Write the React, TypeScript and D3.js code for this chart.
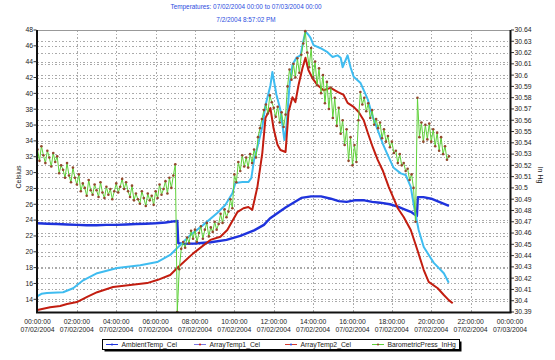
import React from 'react';
import * as d3 from 'd3';

// ---------- DATA ----------
const ambientHours = [0,0.5,1,1.5,2,2.5,3,3.5,4,4.5,5,5.5,6,6.5,7.1,7.15,7.4,8,8.8,9.6,10.3,11,11.5,11.8,12.2,12.6,13,13.4,13.9,14.4,14.9,15.3,15.7,16.1,16.6,17,17.4,17.9,18.3,18.7,19,19.27,19.32,19.6,20,20.4,20.9];
const ambientTemp = [23.6,23.55,23.5,23.45,23.4,23.35,23.35,23.4,23.4,23.45,23.5,23.55,23.6,23.7,23.9,21.1,21.0,21.05,21.2,21.5,22.0,22.7,23.4,24.2,24.9,25.6,26.2,26.8,27.0,27.0,26.7,26.4,26.3,26.5,26.5,26.3,26.2,26.0,25.7,25.3,25.0,24.5,26.9,26.9,26.7,26.3,25.8];

const array1Hours = [0,0.2,0.48,1.3,1.81,2.32,3.03,4.05,5.22,6.08,6.74,7.15,7.76,8.42,9.13,9.54,9.9,10.05,10.41,10.71,10.86,11.0,11.17,11.42,11.58,11.83,11.93,12.14,12.34,12.54,12.65,12.8,12.95,13.15,13.36,13.51,13.61,13.76,13.87,14.02,14.38,14.73,14.99,15.24,15.4,15.5,15.75,15.9,16.06,16.41,16.57,16.78,17.03,17.28,17.53,17.79,18.09,18.45,18.7,18.96,19.11,19.36,19.62,20.13,20.64,20.89];
const array1Temp = [14.4,14.7,14.8,14.9,15.4,16.4,17.3,17.95,18.3,18.7,19.6,20.6,22.1,23.4,24.9,25.9,27.4,28.7,28.8,28.8,29.3,31.6,33.2,35.8,38.5,41.0,42.7,39.8,37.9,34.1,36.0,41.0,43.6,44.5,44.8,46.7,47.8,47.4,47.0,46.1,45.7,45.2,44.6,44.8,44.5,43.3,44.8,43.3,42.1,41.3,40.4,39.2,37.0,35.4,33.7,32.2,30.6,29.9,29.7,28.2,25.9,22.75,20.6,18.6,17.3,16.1];

const array2Hours = [0,0.64,1.15,1.5,2.0,2.52,3.03,3.84,4.71,5.57,6.08,6.74,7.1,7.25,7.91,8.78,9.29,9.64,10.15,10.46,10.71,10.91,11.17,11.42,11.58,11.83,11.99,12.19,12.34,12.6,12.75,12.95,13.1,13.26,13.46,13.61,13.76,13.97,14.22,14.53,14.89,15.24,15.55,15.75,16.06,16.31,16.57,16.78,17.03,17.28,17.53,17.84,18.3,18.6,18.96,19.3,19.62,19.87,20.33,20.64,20.89,21.09];
const array2Temp = [12.65,13.0,13.15,13.4,13.65,14.3,14.9,15.55,15.8,16.05,16.43,17.07,17.95,18.3,19.8,21.5,21.9,22.75,25.0,25.5,25.65,25.3,28.2,32.5,36.9,38.15,35.6,33.5,32.85,32.6,37.65,39.5,38.9,41.05,43.2,44.5,42.95,41.9,41.05,40.4,40.7,40.2,39.8,38.8,38.3,37.65,36.6,35.0,33.2,31.6,30.3,28.2,25.5,24.4,22.75,20.2,17.7,16.2,15.4,14.55,13.9,13.5];

// barometric pressure sampled every 6 minutes from 00:00
const pressStartHour = 0;
const pressStepHours = 0.1;
const pressure = [
  30.534,30.524,30.537,30.529,30.522,30.533,30.527,30.519,30.531,30.523,
  30.528,30.513,30.520,30.516,30.509,30.522,30.511,30.505,30.518,30.509,
  30.503,30.512,30.497,30.504,30.500,30.493,30.507,30.498,30.494,30.503,
  30.498,30.492,30.505,30.496,30.491,30.501,30.494,30.499,30.490,30.497,
  30.504,30.496,30.501,30.508,30.499,30.505,30.497,30.492,30.502,30.489,
  30.495,30.490,30.486,30.497,30.491,30.484,30.495,30.489,30.493,30.485,
  30.497,30.491,30.503,30.494,30.499,30.506,30.495,30.509,30.500,30.511,
  30.521,30.390,30.428,30.446,30.452,30.447,30.456,30.451,30.462,30.455,
  30.463,30.452,30.460,30.466,30.455,30.463,30.469,30.457,30.465,30.461,
  30.470,30.463,30.468,30.477,30.469,30.481,30.474,30.479,30.490,30.482,
  30.512,30.505,30.523,30.515,30.529,30.519,30.527,30.518,30.530,30.522,
  30.534,30.527,30.545,30.553,30.561,30.569,30.574,30.566,30.582,30.576,
  30.571,30.563,30.572,30.558,30.567,30.554,30.565,30.590,30.605,30.596,
  30.610,30.598,30.615,30.602,30.618,30.628,30.639,30.620,30.607,30.624,
  30.598,30.612,30.591,30.606,30.584,30.600,30.575,30.594,30.570,30.589,
  30.562,30.580,30.555,30.571,30.548,30.560,30.538,30.552,30.524,30.545,
  30.520,30.538,30.523,30.560,30.585,30.574,30.580,30.568,30.575,30.562,
  30.569,30.556,30.561,30.553,30.558,30.544,30.552,30.541,30.546,30.536,
  30.541,30.531,30.533,30.522,30.530,30.520,30.522,30.515,30.517,30.507,
  30.512,30.500,30.470,30.580,30.545,30.558,30.541,30.556,30.543,30.557,
  30.541,30.552,30.537,30.549,30.533,30.545,30.530,30.537,30.525,30.528
];

const xTickHours = [0,2,4,6,8,10,12,14,16,18,20,22,24];
const xTickTimes = ['00:00:00','02:00:00','04:00:00','06:00:00','08:00:00','10:00:00','12:00:00','14:00:00','16:00:00','18:00:00','20:00:00','22:00:00','00:00:00'];
const xTickDates = ['07/02/2004','07/02/2004','07/02/2004','07/02/2004','07/02/2004','07/02/2004','07/02/2004','07/02/2004','07/02/2004','07/02/2004','07/02/2004','07/02/2004','07/03/2004'];
const leftTicks = [14,16,18,20,22,24,26,28,30,32,34,36,38,40,42,44,46,48];
const rightTicks = [30.39,30.4,30.41,30.42,30.43,30.44,30.45,30.46,30.47,30.48,30.49,30.5,30.51,30.52,30.53,30.54,30.55,30.56,30.57,30.58,30.59,30.6,30.61,30.62,30.63,30.64];
const rightTickLabels = ['30.39','30.4','30.41','30.42','30.43','30.44','30.45','30.46','30.47','30.48','30.49','30.5','30.51','30.52','30.53','30.54','30.55','30.56','30.57','30.58','30.59','30.6','30.61','30.62','30.63','30.64'];
const legendNames = ['AmbientTemp_Cel','ArrayTemp1_Cel','ArrayTemp2_Cel','BarometricPress_InHg'];
const titleLine1 = 'Temperatures: 07/02/2004 00:00 to 07/03/2004 00:00';
const titleLine2 = '7/2/2004 8:57:02 PM';

// ---------- STYLE ----------
const FONT = 'Liberation Sans, Arial, sans-serif';
const C_AMB = '#1f33dc';
const C_A1 = '#3fbcf0';
const C_A2 = '#c21d10';
const C_PL = '#5fd13a';
const C_PM = '#92492c';
const legendLine = ['#1f33dc', '#7a78e0', '#d33a30', '#5fd13a'];
const legendMarker = ['#1f33dc', '#c82020', '#3a50d8', '#8e4b2e'];

export default function App() {
  const L = 37.5, R = 510, T = 30, B = 312;
  const x = d3.scaleLinear().domain([0, 24]).range([L, R]);
  const yL = d3.scaleLinear().domain([12.4, 48]).range([B, T]);
  const yR = d3.scaleLinear().domain([30.39, 30.64]).range([B, T]);

  const mk = (hs: number[], vs: number[]) => hs.map((h, i) => [h, vs[i]] as [number, number]);
  const tLine = d3.line<[number, number]>().x(d => x(d[0])).y(d => yL(d[1]));
  const pLine = d3.line<[number, number]>().x(d => x(d[0])).y(d => yR(d[1]));
  const pData = pressure.map((v, i) => [pressStartHour + i * pressStepHours, v] as [number, number]);

  const legendX = [106, 194, 285, 372];

  return (
    <svg width={555} height={360} style={{ position: 'absolute', left: 0, top: 0, background: '#fff' }} fontFamily={FONT}>
      <defs>
        <clipPath id="plot"><rect x={L} y={T - 1} width={R - L} height={B - T + 1} /></clipPath>
      </defs>
      <text x={246} y={8.5} textAnchor="middle" fontSize={6.4} fill="#2a4de0">{titleLine1}</text>
      <text x={246} y={21.5} textAnchor="middle" fontSize={6.4} fill="#2a4de0">{titleLine2}</text>

      {/* grid */}
      <g stroke="#aaaaaa" strokeWidth={1} strokeDasharray="1.5,2" shapeRendering="crispEdges">
        {leftTicks.map((t, i) => <line key={'gl' + i} x1={L} x2={R} y1={Math.round(yL(t)) + 0.5} y2={Math.round(yL(t)) + 0.5} />)}
        {rightTicks.map((t, i) => <line key={'gr' + i} x1={L} x2={R} y1={Math.round(yR(t)) + 0.5} y2={Math.round(yR(t)) + 0.5} />)}
        {xTickHours.slice(1, -1).map((h, i) => <line key={'gx' + i} y1={T} y2={B} x1={Math.round(x(h)) + 0.5} x2={Math.round(x(h)) + 0.5} />)}
      </g>
      <line x1={L} x2={R} y1={T + 0.5} y2={T + 0.5} stroke="#999" strokeWidth={1} />

      {/* series */}
      <g clipPath="url(#plot)" fill="none" strokeLinejoin="round">
        <path d={tLine(mk(ambientHours, ambientTemp)) || ''} stroke={C_AMB} strokeWidth={2.4} />
        <path d={tLine(mk(array1Hours, array1Temp)) || ''} stroke={C_A1} strokeWidth={2} />
        <path d={tLine(mk(array2Hours, array2Temp)) || ''} stroke={C_A2} strokeWidth={2} />
        <path d={pLine(pData) || ''} stroke={C_PL} strokeWidth={1} />
        <g fill={C_PM} stroke="none">
          {pData.map((d, i) => <circle key={'pm' + i} cx={x(d[0])} cy={yR(d[1])} r={1.3} />)}
        </g>
      </g>

      {/* axes */}
      <line x1={L - 0.5} x2={L - 0.5} y1={T} y2={B + 1} stroke="#111" strokeWidth={2} />
      <line x1={R + 0.5} x2={R + 0.5} y1={T} y2={B + 1} stroke="#111" strokeWidth={2} />
      <line x1={L - 1.5} x2={R + 1.5} y1={B + 0.5} y2={B + 0.5} stroke="#111" strokeWidth={2} />

      {leftTicks.map((t, i) => (
        <g key={'lt' + i}>
          <line x1={L - 4} x2={L - 1} y1={yL(t)} y2={yL(t)} stroke="#333" strokeWidth={1} />
          <text x={33} y={yL(t)} dy="0.35em" textAnchor="end" fontSize={6.8} fill="#222">{t}</text>
        </g>
      ))}
      {rightTicks.map((t, i) => (
        <g key={'rt' + i}>
          <line x1={R + 1} x2={R + 4} y1={yR(t)} y2={yR(t)} stroke="#333" strokeWidth={1} />
          <text x={514.5} y={yR(t)} dy="0.35em" textAnchor="start" fontSize={6.8} fill="#222">{rightTickLabels[i]}</text>
        </g>
      ))}
      {xTickHours.map((h, i) => (
        <g key={'xt' + i}>
          <text x={x(h)} y={323.5} textAnchor="middle" fontSize={6.8} fill="#222">{xTickTimes[i]}</text>
          <text x={x(h)} y={331.5} textAnchor="middle" fontSize={6.8} fill="#222">{xTickDates[i]}</text>
        </g>
      ))}
      <text transform="translate(21,177) rotate(-90)" textAnchor="middle" fontSize={7} fill="#222">Celsius</text>
      <text transform="translate(538,175) rotate(90)" textAnchor="middle" fontSize={7} fill="#222">In Hg</text>

      {/* legend */}
      <rect x={104.5} y={341.5} width={357} height={10} fill="#000" />
      <rect x={102.5} y={339.5} width={357} height={10} fill="#fff" stroke="#000" strokeWidth={1} />
      {legendNames.map((n, i) => (
        <g key={'lg' + i}>
          <line x1={legendX[i]} x2={legendX[i] + 12} y1={344.5} y2={344.5} stroke={legendLine[i]} strokeWidth={1} />
          <circle cx={legendX[i] + 6} cy={344.5} r={1.1} fill={legendMarker[i]} />
          <text x={legendX[i] + 15.5} y={347} fontSize={6.8} fill="#222">{n}</text>
        </g>
      ))}
    </svg>
  );
}
